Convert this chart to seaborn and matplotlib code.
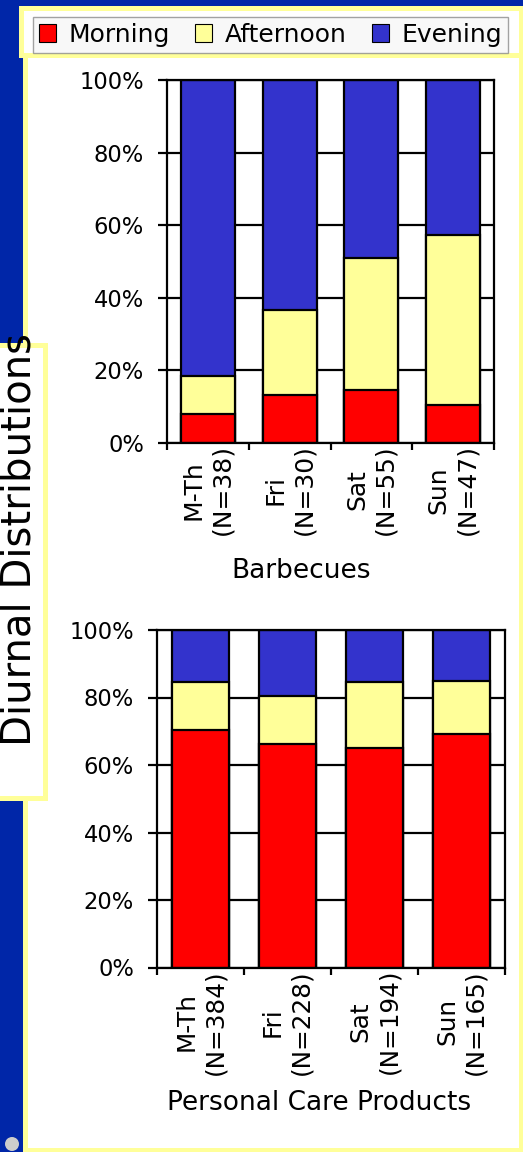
import numpy as np
import pandas as pd
import matplotlib
matplotlib.use("Agg")
import matplotlib.pyplot as plt
from matplotlib.patches import Rectangle, Patch, Ellipse
import seaborn as sns

# ---- data (percent of observations per day group) ----
bbq_days = ["M-Th\n(N=38)", "Fri\n(N=30)", "Sat\n(N=55)", "Sun\n(N=47)"]
bbq_morning = [7.9, 13.3, 14.5, 10.6]
bbq_afternoon = [10.5, 23.4, 36.4, 46.8]
bbq_evening = [81.6, 63.3, 49.1, 42.6]

pcp_days = ["M-Th\n(N=384)", "Fri\n(N=228)", "Sat\n(N=194)", "Sun\n(N=165)"]
pcp_morning = [70.3, 66.2, 64.9, 69.1]
pcp_afternoon = [14.3, 14.1, 19.6, 15.7]
pcp_evening = [15.4, 19.7, 15.5, 15.2]

series_names = ["Morning", "Afternoon", "Evening"]
y_ticks = [0, 20, 40, 60, 80, 100]

# ---- styling ----
RED = "#FF0000"
YELLOW = "#FFFF99"
BAR_BLUE = "#3333CC"
SLIDE_BLUE = "#0026A8"
BORDER = "#FFFF99"
LW = 1.6

sns.set_style("ticks")
plt.rcParams["font.family"] = ["DejaVu Sans"]
for key in ["text.color", "axes.labelcolor", "xtick.color", "ytick.color"]:
    plt.rcParams[key] = "black"

W, H = 523, 1152
fig = plt.figure(figsize=(W / 100, H / 100), dpi=100, facecolor=SLIDE_BLUE)


def fx(px):
    return px / W


def fy(py):
    return 1 - py / H


# slide panels
fig.add_artist(Rectangle((fx(24.5), fy(1150)), (521 - 24.5) / W, (1150 - 55) / H,
                         transform=fig.transFigure, facecolor="white",
                         edgecolor=BORDER, linewidth=3.6, zorder=-3))
fig.add_artist(Rectangle((fx(20.5), fy(55)), (521 - 20.5) / W, (55 - 7.5) / H,
                         transform=fig.transFigure, facecolor="white",
                         edgecolor=BORDER, linewidth=3.6, zorder=-2))
fig.add_artist(Rectangle((fx(-10), fy(797.5)), (45 + 10) / W, (797.5 - 345.5) / H,
                         transform=fig.transFigure, facecolor="white",
                         edgecolor=BORDER, linewidth=3.6, zorder=-1))
fig.add_artist(Ellipse((fx(12), fy(1144)), 14 / W, 14 / H, transform=fig.transFigure,
                       facecolor="#CCCCCC", edgecolor="none", zorder=-1))
fig.text(fx(40), fy(540), "Diurnal Distributions", rotation=90, ha="right",
         va="center", fontsize=29, color="black")


def stacked_panel(ax, days, morning, afternoon, evening, xlabel, labelpad,
                  label_x, ticksize):
    df = pd.DataFrame({"day": days, "morning": morning,
                       "afternoon": afternoon, "evening": evening})
    df["through_afternoon"] = df["morning"] + df["afternoon"]
    df["total"] = df["through_afternoon"] + df["evening"]
    for col, color in [("total", BAR_BLUE), ("through_afternoon", YELLOW),
                       ("morning", RED)]:
        sns.barplot(data=df, x="day", y=col, color=color, saturation=1,
                    width=0.66, edgecolor="black", linewidth=LW,
                    errorbar=None, ax=ax)
    ax.set_facecolor("white")
    ax.set_xlim(-0.5, len(days) - 0.5)
    ax.set_ylim(0, 100)
    ax.set_xticks(np.arange(-0.5, len(days), 1.0))
    ax.set_xticklabels([])
    ax.set_xticks(np.arange(len(days)), labels=days, minor=True)
    ax.tick_params(axis="x", which="major", length=5, width=LW,
                   direction="out", bottom=True)
    ax.tick_params(axis="x", which="minor", length=0, pad=1, labelsize=ticksize)
    for lab in ax.get_xticklabels(minor=True):
        lab.set_rotation(90)
        lab.set_linespacing(1.25)
        lab.set_ha("center")
        lab.set_va("top")
        lab.set_multialignment("center")
    ax.set_yticks(y_ticks, labels=[f"{v}%" for v in y_ticks])
    ax.tick_params(axis="y", length=6.5, width=LW, pad=10, labelsize=16.3,
                   direction="out", left=True)
    for sp in ax.spines.values():
        sp.set_visible(True)
        sp.set_color("black")
        sp.set_linewidth(LW)
    ax.yaxis.grid(True, color="black", linewidth=LW)
    ax.xaxis.grid(False)
    ax.set_axisbelow(True)
    ax.set_ylabel("")
    ax.set_xlabel(xlabel, fontsize=19, labelpad=labelpad)
    ax.xaxis.label.set_x(label_x)


ax1 = fig.add_axes([fx(167), fy(443), (494 - 167) / W, (443 - 80) / H])
stacked_panel(ax1, bbq_days, bbq_morning, bbq_afternoon, bbq_evening,
              "Barbecues", 16, 0.41, 18)

ax2 = fig.add_axes([fx(157), fy(967.5), (505 - 157) / W, (967.5 - 630) / H])
stacked_panel(ax2, pcp_days, pcp_morning, pcp_afternoon, pcp_evening,
              "Personal Care Products", 11, 0.465, 17.8)

handles = [Patch(facecolor=c, edgecolor="black", linewidth=0.8)
           for c in [RED, YELLOW, BAR_BLUE]]
fig.legend(handles, series_names, ncol=3, loc="lower left",
           bbox_to_anchor=(fx(33), fy(53), (508 - 33) / W, (53 - 12) / H),
           mode="expand", borderaxespad=0, fontsize=18, frameon=True,
           fancybox=False, facecolor="#F7F7F7", edgecolor="#8C8C8C",
           handlelength=0.68, handleheight=0.68, handletextpad=0.5,
           borderpad=0.25)

fig.savefig("out.png", dpi=100, facecolor=SLIDE_BLUE)
